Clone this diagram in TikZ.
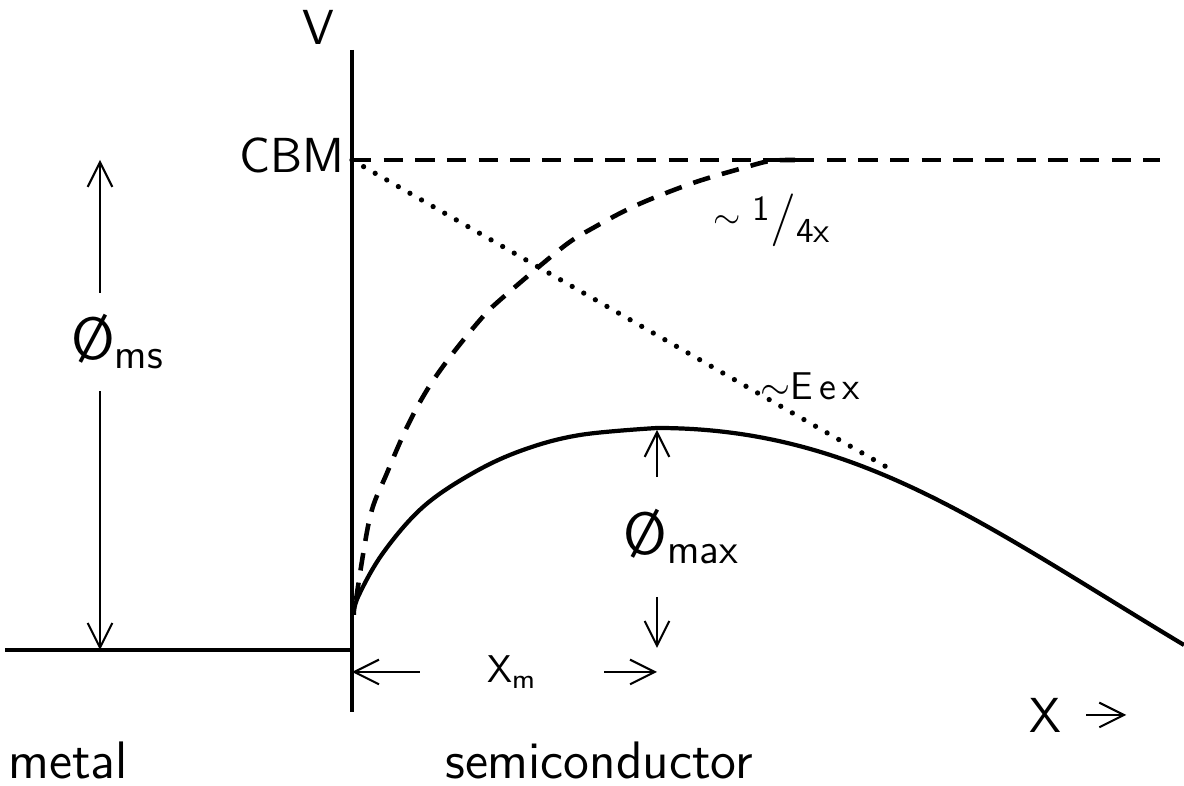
\documentclass[tikz,border=0pt]{standalone}
\usepackage{tikz}
\usetikzlibrary{arrows.meta}

\begin{document}
\begin{tikzpicture}[x=0.01cm,y=-0.01cm,
    lbl/.style={font=\sffamily\fontsize{14}{16}\selectfont, inner sep=1pt},
    biglbl/.style={font=\sffamily\fontsize{15}{17}\selectfont, inner sep=1pt},
    smalllbl/.style={font=\sffamily\fontsize{11}{13}\selectfont, inner sep=1pt},
    philbl/.style={font=\sffamily\fontsize{17}{19}\selectfont, inner sep=1pt},
    harrow/.style={-{Straight Barb[length=7pt,width=7pt]}, line width=0.6pt},
    band/.style={line width=1.2pt},
    cbmline/.style={line width=0.9pt, dash pattern=on 5.5pt off 3.5pt},
    imgline/.style={line width=1.3pt, dash pattern=on 5pt off 3.5pt},
    fieldline/.style={line width=1.5pt, line cap=round, dash pattern=on 0pt off 3.8pt}]
    \useasboundingbox (0,0) rectangle (1184,786);

    % axis and levels
    \coordinate (top) at (352,50);
    \coordinate (bot) at (352,712);
    \coordinate (cbm) at (352,160);
    \coordinate (cbmend) at (1160,160);
    \coordinate (ef) at (352,650);
    \coordinate (metalend) at (5,650);
    \draw[line width=1pt] (top) -- (bot);
    \draw[line width=0.9pt] (metalend) -- (ef);
    \draw[cbmline] (cbm) -- (cbmend);

    \node[lbl] (vlbl) at (318,27) {V};
    \node[lbl] (cbmlbl) at (292,155) {CBM};

    % image force and field terms
    \draw[imgline] plot[smooth, tension=0.55] coordinates {(356,600) (370,517) (387,473) (407,427)
        (427,390) (450,357) (480,320) (500,300) (563,247) (593,228) (637,205) (693,183)
        (743,168) (770,161) (795,160)};
    \coordinate (fieldend) at (890,469);
    \draw[fieldline] (cbm) -- (fieldend);

    % resulting barrier
    \draw[band] plot[smooth, tension=0.6] coordinates {(354,615) (358,597) (383,553) (423,507)
        (473,473) (523,450) (580,435) (657,428)}
        .. controls (857,428) and (984,525) .. (1184,645);

    \node[font=\sffamily\fontsize{10}{12}\selectfont, inner sep=0pt] (imglbl) at (772,220)
        {\raisebox{0.3ex}{$\sim$}\ \raisebox{0.8ex}{1}{\fontsize{15}{15}\selectfont/}\raisebox{-0.6ex}{4x}};
    \node[smalllbl] (eexlbl) at (810,386) {$\sim$E\,e\,x};

    % barrier heights
    \coordinate (msa) at (100,160);
    \coordinate (msb) at (100,650);
    \node[philbl] (phims) at (118,342) {\O\textsubscript{ms}};
    \draw[harrow] ([yshift=5pt]phims.north -| msa) -- (msa);
    \draw[harrow] ([yshift=-5pt]phims.south -| msb) -- (msb);

    \coordinate (maxa) at (657,430);
    \coordinate (maxb) at (657,648);
    \node[philbl] (phimax) at (682,537) {\O\textsubscript{max}};
    \draw[harrow] ([yshift=8pt]phimax.north -| maxa) -- (maxa);
    \draw[harrow] ([yshift=-8pt]phimax.south -| maxb) -- (maxb);

    % position of maximum
    \node[smalllbl] (xm) at (512,672) {X\textsubscript{m}};
    \draw[harrow] ([xshift=-18pt]xm.west) -- (xm.west -| bot);
    \draw[harrow] ([xshift=18pt]xm.east) -- (xm.east -| maxb);

    \node[lbl] (xlbl) at (1045,715) {X};
    \draw[harrow] ([xshift=6pt]xlbl.east) -- ++(40,0);

    \node[biglbl] (metal) at (68,760) {metal};
    \node[biglbl] (semi) at (599,760) {semiconductor};
\end{tikzpicture}
\end{document}
